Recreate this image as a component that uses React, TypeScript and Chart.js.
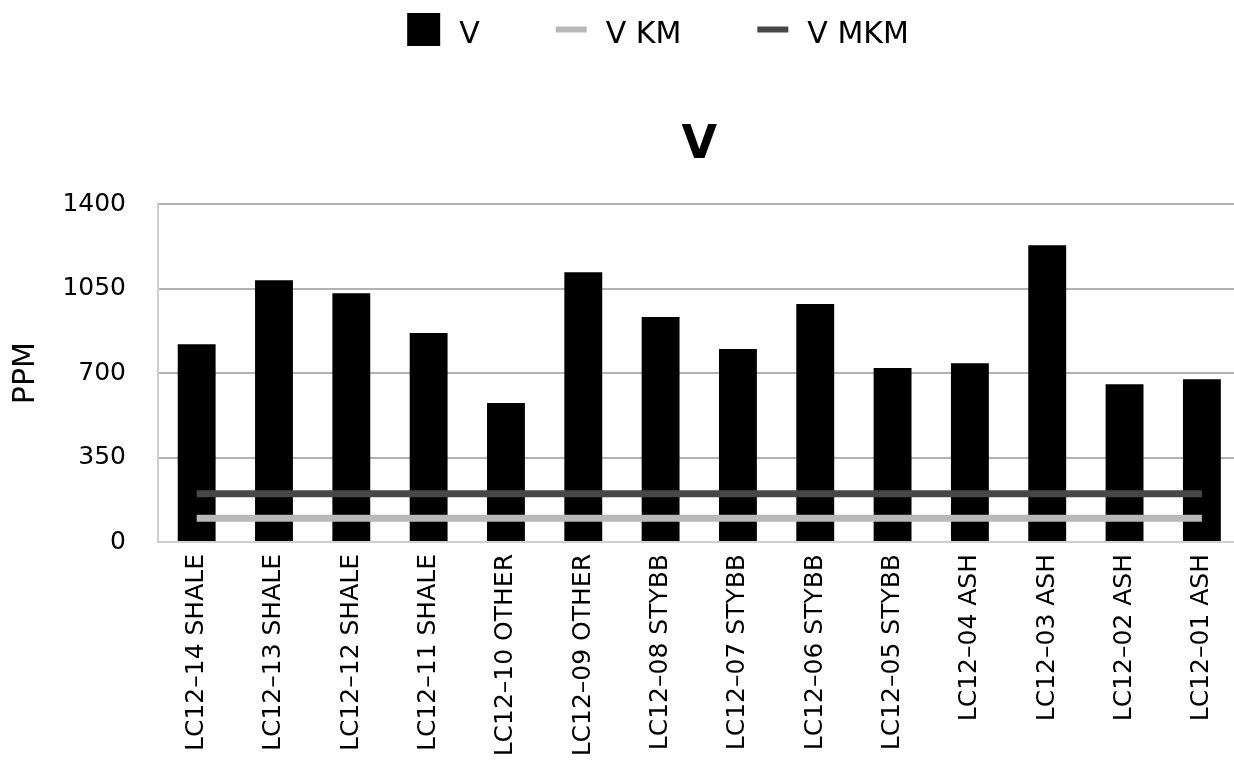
import React, { useEffect, useRef } from "react";
import { Chart, registerables } from "chart.js";

Chart.register(...registerables);

const categories = [
  "LC12–14 SHALE",
  "LC12–13 SHALE",
  "LC12–12 SHALE",
  "LC12–11 SHALE",
  "LC12–10 OTHER",
  "LC12–09 OTHER",
  "LC12–08 STYBB",
  "LC12–07 STYBB",
  "LC12–06 STYBB",
  "LC12–05 STYBB",
  "LC12–04 ASH",
  "LC12–03 ASH",
  "LC12–02 ASH",
  "LC12–01 ASH",
];

const vValues = [820, 1085, 1031, 866, 576, 1118, 932, 800, 986, 721, 741, 1230, 654, 675];
const vKm = [98, 98, 98, 98, 98, 98, 98, 98, 98, 98, 98, 98, 98, 98];
const vMkm = [200, 200, 200, 200, 200, 200, 200, 200, 200, 200, 200, 200, 200, 200];
const yTicks = [0, 350, 700, 1050, 1400];
const yTickLabels = ["0", "350", "700", "1050", "1400"];

const FONT = "'DejaVu Sans', Verdana, sans-serif";
const LEGEND_CENTER_X = 658;
const LEGEND_MID_Y = 29.5;
const LEGEND_TEXT_BASELINE = 43;

const topLegend = {
  id: "topLegend",
  afterDraw(chart: any) {
    const ctx = chart.ctx as CanvasRenderingContext2D;
    const items = chart.data.datasets.map((ds: any) => ({
      label: ds.label as string,
      kind: ds.type === "line" ? "line" : "box",
      color: ds.type === "line" ? ds.borderColor : ds.backgroundColor,
    }));
    ctx.save();
    ctx.font = `30px ${FONT}`;
    const boxW = 33;
    const lineW = 31;
    const gap = 19;
    const spacing = 76;
    const widths = items.map(
      (it: any) => (it.kind === "box" ? boxW : lineW) + gap + ctx.measureText(it.label).width
    );
    const total = widths.reduce((a: number, b: number) => a + b, 0) + spacing * (items.length - 1);
    let x = LEGEND_CENTER_X - total / 2;
    items.forEach((it: any) => {
      if (it.kind === "box") {
        ctx.fillStyle = it.color;
        ctx.fillRect(x, LEGEND_MID_Y - boxW / 2, boxW, boxW);
        x += boxW + gap;
      } else {
        ctx.strokeStyle = it.color;
        ctx.lineWidth = 6;
        ctx.lineCap = "butt";
        ctx.beginPath();
        ctx.moveTo(x, LEGEND_MID_Y);
        ctx.lineTo(x + lineW, LEGEND_MID_Y);
        ctx.stroke();
        x += lineW + gap;
      }
      ctx.fillStyle = "#000";
      ctx.textAlign = "left";
      ctx.textBaseline = "alphabetic";
      ctx.fillText(it.label, x, LEGEND_TEXT_BASELINE);
      x += ctx.measureText(it.label).width + spacing;
    });
    ctx.restore();
  },
};

export default function App() {
  const ref = useRef<HTMLCanvasElement>(null);

  useEffect(() => {
    const chart = new Chart(ref.current!, {
      type: "bar",
      data: {
        labels: categories,
        datasets: [
          {
            type: "bar",
            label: "V",
            data: vValues,
            backgroundColor: "#000000",
            borderWidth: 0,
            barPercentage: 0.49,
            categoryPercentage: 1.0,
            order: 3,
          },
          {
            type: "line",
            label: "V KM",
            data: vKm,
            borderColor: "#b8b8b8",
            backgroundColor: "#b8b8b8",
            borderWidth: 7,
            pointRadius: 0,
            fill: false,
            tension: 0,
            borderCapStyle: "butt",
            order: 2,
          },
          {
            type: "line",
            label: "V MKM",
            data: vMkm,
            borderColor: "#474747",
            backgroundColor: "#474747",
            borderWidth: 7,
            pointRadius: 0,
            fill: false,
            tension: 0,
            borderCapStyle: "butt",
            order: 1,
          },
        ] as any,
      },
      options: {
        animation: false,
        responsive: false,
        devicePixelRatio: 1,
        layout: { padding: { top: 118, left: 0, right: 0, bottom: 0 } },
        plugins: {
          legend: { display: false },
          tooltip: { enabled: false },
          title: {
            display: true,
            text: "V",
            fullSize: false,
            color: "#000",
            font: { family: FONT, size: 46, weight: "bold" },
            padding: { top: 0, bottom: 31 },
          },
        },
        scales: {
          x: {
            offset: true,
            grid: { display: false, drawTicks: false },
            border: { display: true, color: "#cfcfcf", width: 2 },
            ticks: {
              color: "#000",
              font: { family: FONT, size: 25 },
              padding: 12,
              minRotation: 90,
              maxRotation: 90,
              autoSkip: false,
            },
            afterFit: (scale: any) => {
              scale.height = 220;
            },
          },
          y: {
            min: 0,
            max: 1400,
            grid: { color: "#b2b2b2", lineWidth: 2, drawTicks: false },
            border: { display: true, color: "#cfcfcf", width: 2 },
            ticks: {
              color: "#000",
              font: { family: FONT, size: 25 },
              padding: 32,
              stepSize: 350,
              callback: (_v: any, i: number) => yTickLabels[i],
            },
            afterBuildTicks: (scale: any) => {
              scale.ticks = yTicks.map((v) => ({ value: v }));
            },
            title: {
              display: true,
              text: "PPM",
              color: "#000",
              font: { family: FONT, size: 30 },
              padding: { top: 8, bottom: 0 },
            },
            afterFit: (scale: any) => {
              scale.width = 158;
            },
          },
        },
      } as any,
      plugins: [topLegend],
    });
    return () => chart.destroy();
  }, []);

  return (
    <div
      style={{
        position: "fixed",
        left: 0,
        top: 0,
        width: 1234,
        height: 762,
        overflow: "hidden",
        background: "#fff",
      }}
    >
      <canvas
        ref={ref}
        width={1244}
        height={762}
        style={{ display: "block", width: 1244, height: 762 }}
      />
    </div>
  );
}
